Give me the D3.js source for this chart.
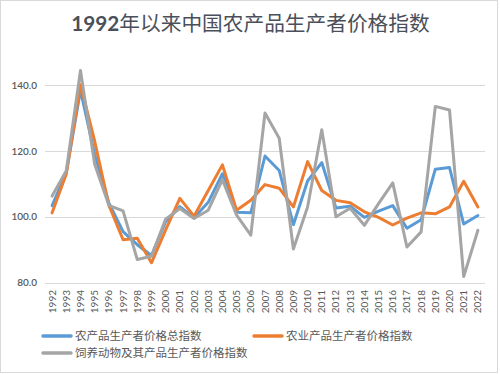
<!DOCTYPE html>
<html><head><meta charset="utf-8">
<script src="https://cdn.jsdelivr.net/npm/d3@7"></script>
<style>
body{margin:0;background:#fff;}
svg{display:block;}
</style></head>
<body><svg id="c" width="500" height="374"></svg>
<script>
const years = d3.range(1992, 2023).map(String);
const seriesNames = ["农产品生产者价格总指数", "农业产品生产者价格指数", "饲养动物及其产品生产者价格指数"];
const colors = ["#5b9bd5", "#ed7d31", "#a5a5a5"];
const totalIndex = [103.4,113.4,138.5,119.0,104.2,95.5,91.5,88.2,98.5,103.1,99.7,104.4,113.1,101.4,101.2,118.5,114.1,97.6,110.9,116.5,102.7,103.2,99.8,101.7,103.4,96.5,99.1,114.5,115.0,97.8,100.4];
const cropIndex = [101.2,113.0,140.2,123.0,103.5,93.0,93.5,86.0,96.0,105.6,100.2,108.0,115.8,102.0,105.0,109.8,108.7,103.0,116.8,108.0,105.0,104.3,101.5,99.8,97.5,99.6,101.2,100.9,103.0,110.8,103.0];
const animalIndex = [106.3,114.0,144.5,116.0,103.5,101.8,87.0,88.0,99.3,102.5,99.5,102.0,111.3,100.5,94.4,131.6,123.9,90.2,103.0,126.5,100.0,102.6,97.4,104.0,110.3,90.8,95.4,133.6,132.5,81.8,95.9];
const yTicks = [80, 100, 120, 140];
const title = ["1992", "年以来中国农产品生产者价格指数"];

const svg = d3.select("#c");
const txtFont = "Lato, 'Noto Sans CJK SC', sans-serif";

svg.append("rect").attr("x",0.5).attr("y",0.5).attr("width",497).attr("height",372)
  .attr("fill","#fff").attr("stroke","#d9d9d9");

const t = svg.append("text").attr("x",250.5).attr("y",31).attr("text-anchor","middle")
  .attr("font-family",txtFont).attr("font-size",20.7).attr("fill","#4a4f5a");
t.append("tspan").attr("font-weight","bold").text(title[0]);
t.append("tspan").attr("font-family","'Noto Sans CJK SC'").text(title[1]);

const x = d3.scaleBand().domain(years).range([45,485]).padding(0);
const y = d3.scaleLinear().domain([80,150]).range([282.5,52.5]);
const cx = d => x(d) + x.bandwidth()/2;

// gridlines
svg.append("g").selectAll("line").data(yTicks).join("line")
  .attr("x1",45).attr("x2",485)
  .attr("y1",d=>Math.round(y(d))+0.5).attr("y2",d=>Math.round(y(d))+0.5)
  .attr("stroke","#d9d9d9").attr("stroke-width",1);

// y labels
svg.append("g").selectAll("text").data(yTicks).join("text")
  .attr("x",37).attr("y",d=>y(d)).attr("dy","0.35em").attr("text-anchor","end")
  .attr("font-family",txtFont).attr("font-size",10).attr("font-weight",600).attr("fill","#595959")
  .text(d=>d3.format(".1f")(d));

// x labels
svg.append("g").selectAll("text").data(years).join("text")
  .attr("transform",d=>`translate(${cx(d)},290) rotate(-90)`)
  .attr("dy","0.35em").attr("text-anchor","end")
  .attr("font-family",txtFont).attr("font-size",10).attr("fill","#595959")
  .text(d=>d);

const all = [totalIndex, cropIndex, animalIndex];
const line = d3.line().x((d,i)=>cx(years[i])).y(d=>y(d));
all.forEach((s,k)=>{
  svg.append("path").datum(s).attr("d",line).attr("fill","none")
    .attr("stroke",colors[k]).attr("stroke-width",3).attr("stroke-linejoin","round").attr("stroke-linecap","round");
});

// legend
const leg = [{x:43,y:336},{x:254,y:336},{x:43,y:353}];
leg.forEach((p,k)=>{
  svg.append("line").attr("x1",p.x).attr("x2",p.x+28).attr("y1",p.y).attr("y2",p.y)
    .attr("stroke",colors[k]).attr("stroke-width",3.5).attr("stroke-linecap","round");
  svg.append("text").attr("x",p.x+32).attr("y",p.y).attr("dy","0.36em")
    .attr("font-family","'Noto Sans CJK SC', sans-serif").attr("font-size",11.5).attr("fill","#595959")
    .text(seriesNames[k]);
});
</script></body></html>
